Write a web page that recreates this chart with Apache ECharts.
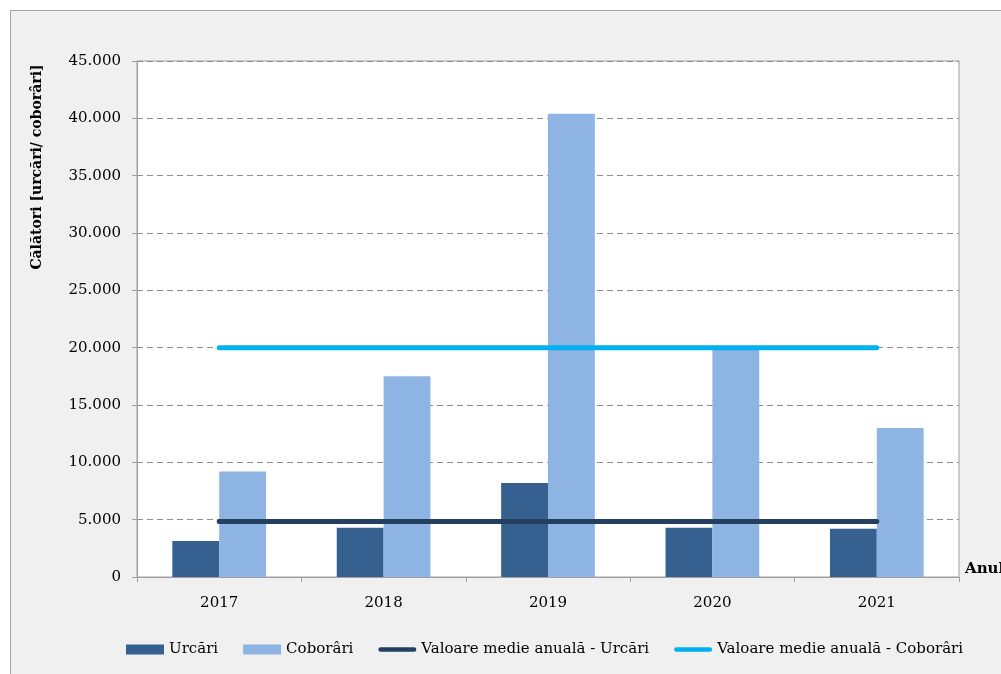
<!DOCTYPE html>
<html>
<head>
<meta charset="utf-8">
<script src="https://cdn.jsdelivr.net/npm/echarts@6/dist/echarts.min.js"></script>
<style>
  html, body { margin: 0; padding: 0; background: #fff; }
  #chart { width: 1001px; height: 674px; }
</style>
</head>
<body>
<div id="chart"></div>
<script>
const ani = ['2017', '2018', '2019', '2020', '2021'];
const urcari = [3150, 4300, 8200, 4300, 4200];
const coborari = [9200, 17500, 40400, 19800, 13000];
const medieUrcari = [4850, 4850, 4850, 4850, 4850];
const medieCoborari = [20000, 20000, 20000, 20000, 20000];
const yTicks = { min: 0, max: 45000, step: 5000 };

const serif = 'DejaVu Serif';
const colorGrid = '#a0a0a0';
// thick line icon for legend (moveTo points keep the box 10px high)
const lineIcon = 'path://M0,0 M42,10 M2.5,2.5 L39.5,2.5 A2.5,2.5 0 0 1 39.5,7.5 L2.5,7.5 A2.5,2.5 0 0 1 2.5,2.5 Z';

function fmt(v) {
    return String(v).replace(/\B(?=(\d{3})+(?!\d))/g, '.');
}

const option = {
    backgroundColor: '#fff',
    animation: false,
    textStyle: { fontFamily: serif },
    graphic: [
        {
            type: 'rect',
            z: -10,
            shape: { x: 10.5, y: 10.5, width: 1100, height: 700 },
            style: { fill: '#f0f0f0', stroke: '#a4a4a4', lineWidth: 1 }
        },
        {
            type: 'text',
            x: 37,
            y: 167,
            rotation: Math.PI / 2,
            style: {
                text: 'Călători [urcări/ coborâri]',
                font: 'bold 14px "DejaVu Serif"',
                fill: '#000',
                align: 'center',
                verticalAlign: 'middle'
            }
        }
    ],
    grid: {
        left: 137,
        top: 61,
        width: 822,
        height: 516,
        outerBoundsMode: 'none',
        containLabel: false,
        show: true,
        backgroundColor: '#fff',
        borderColor: colorGrid,
        borderWidth: 1
    },
    legend: {
        left: 121,
        top: 637,
        itemWidth: 38,
        itemHeight: 10,
        itemGap: 25,
        textStyle: { fontFamily: serif, fontSize: 15, color: '#000' },
        data: [
            { name: 'Urcări', icon: 'rect' },
            { name: 'Coborâri', icon: 'rect' },
            { name: 'Valoare medie anuală - Urcări', icon: lineIcon },
            { name: 'Valoare medie anuală - Coborâri', icon: lineIcon }
        ]
    },
    xAxis: {
        type: 'category',
        data: ani,
        name: 'Anul',
        nameLocation: 'end',
        nameGap: 6,
        nameTextStyle: { fontFamily: serif, fontWeight: 'bold', fontSize: 15, color: '#000', verticalAlign: 'bottom' },
        axisLine: { lineStyle: { color: colorGrid, width: 1 } },
        axisTick: { show: true, interval: 0, length: 5, lineStyle: { color: colorGrid } },
        axisLabel: { color: '#000', fontSize: 15, fontFamily: serif, margin: 19 }
    },
    yAxis: {
        type: 'value',
        min: yTicks.min,
        max: yTicks.max,
        interval: yTicks.step,
        axisLine: { show: true, lineStyle: { color: colorGrid, width: 1 } },
        axisTick: { show: true, length: 5, lineStyle: { color: colorGrid } },
        axisLabel: { color: '#000', fontSize: 15, fontFamily: serif, margin: 16, formatter: fmt },
        splitLine: { lineStyle: { color: '#8c8c8c', type: [6, 4], width: 1 } }
    },
    series: [
        {
            name: 'Urcări',
            type: 'bar',
            data: urcari,
            barGap: '0%',
            barCategoryGap: '43%',
            itemStyle: { color: '#36608f' }
        },
        {
            name: 'Coborâri',
            type: 'bar',
            data: coborari,
            itemStyle: { color: '#8eb4e3' }
        },
        {
            name: 'Valoare medie anuală - Urcări',
            type: 'line',
            data: medieUrcari,
            symbol: 'none',
            z: 5,
            lineStyle: { color: '#243f60', width: 5, cap: 'round' },
            itemStyle: { color: '#243f60' }
        },
        {
            name: 'Valoare medie anuală - Coborâri',
            type: 'line',
            data: medieCoborari,
            symbol: 'none',
            z: 5,
            lineStyle: { color: '#00b0f0', width: 5, cap: 'round' },
            itemStyle: { color: '#00b0f0' }
        }
    ]
};

const chart = echarts.init(document.getElementById('chart'));
chart.setOption(option);
</script>
</body>
</html>
